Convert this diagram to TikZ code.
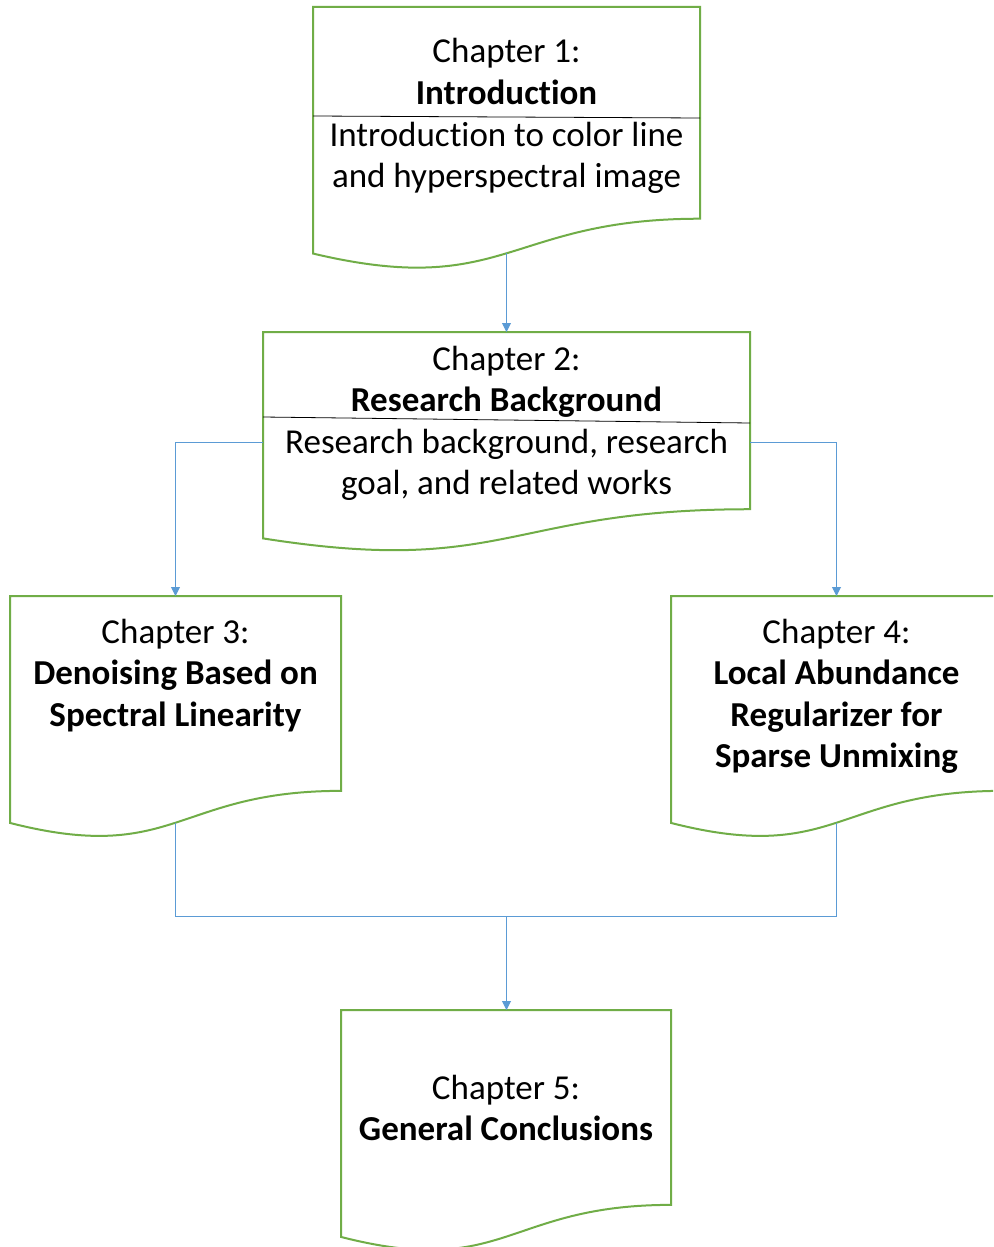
\documentclass[tikz,border=0pt]{standalone}
\usepackage{fontspec}
\setmainfont{Carlito}[Ligatures=NoCommon]
\usetikzlibrary{calc,arrows.meta}
\definecolor{docgreen}{HTML}{70AD47}
\definecolor{conblue}{HTML}{5B9BD5}
\tikzset{
  docline/.style={draw=docgreen, line width=2pt, line join=miter},
  conn/.style={draw=conblue, line width=0.9pt},
  arr/.style={conn, -{Triangle[width=9pt,length=9pt]}},
  txt/.style={inner sep=0pt, anchor=base, font=\fontsize{35}{42}\selectfont},
  divider/.style={draw=black, line width=0.8pt},
}
% name, left x, top y, width, height (pixel units, y downwards)
\newcommand\docbox[5]{%
  \node[inner sep=0pt, outer sep=0pt, minimum width=#4pt, minimum height=#5pt, anchor=north west] (#1) at (#2pt,-#3pt) {};
  \draw[docline] (#1.north west) -- (#1.north east) -- ($(#1.north east)+(0,-0.80194*#5pt)$)
    .. controls ($(#1.north)+(0,-0.80194*#5pt)$) and ($(#1.north)+(0,-1.10750*#5pt)$) ..
    ($(#1.north west)+(0,-0.93389*#5pt)$) -- cycle;
  \coordinate (#1-w) at ($(#1.north)+(0,-0.9333*#5pt)$);
}
\begin{document}
\begin{tikzpicture}
\clip (0,0) rectangle (993pt,-1247pt);
\fill[white] (0,0) rectangle (993pt,-1247pt);

\docbox{b1}{313}{7}{387}{264}
\docbox{b2}{263}{332}{487}{221}
\docbox{b3}{10}{596}{331}{243}
\docbox{b4}{671}{596}{331}{243}
\docbox{b5}{341}{1010}{330}{243}

\draw[divider] ($(b1.north west)+(0,-109pt)$) -- ($(b1.north east)+(0,-111pt)$);
\draw[divider] ($(b2.north west)+(0,-85pt)$) -- ($(b2.north east)+(0,-91pt)$);

% texts
\node[txt] (t1a) at (506.5pt,-63pt) {Chapter 1:};
\node[txt] (t1b) at (506.5pt,-104.5pt) {\bfseries Introduction};
\node[txt] (t1c) at (506.5pt,-146pt) {Introduction to color line};
\node[txt] (t1d) at (506.5pt,-187.5pt) {and hyperspectral image};

\node[txt] (t2a) at (506.5pt,-370pt) {Chapter 2:};
\node[txt] (t2b) at (506.5pt,-411.5pt) {\bfseries Research Background};
\node[txt] (t2c) at (506.5pt,-453pt) {Research background, research};
\node[txt] (t2d) at (506.5pt,-494.5pt) {goal, and related works};

\node[txt] (t3a) at (175.5pt,-643pt) {Chapter 3:};
\node[txt] (t3b) at (175.5pt,-684.5pt) {\bfseries Denoising Based on};
\node[txt] (t3c) at (175.5pt,-726pt) {\bfseries Spectral Linearity};

\node[txt] (t4a) at (836.5pt,-643pt) {Chapter 4:};
\node[txt] (t4b) at (836.5pt,-684.5pt) {\bfseries Local Abundance};
\node[txt] (t4c) at (836.5pt,-726pt) {\bfseries Regularizer for};
\node[txt] (t4d) at (836.5pt,-767.5pt) {\bfseries Sparse Unmixing};

\node[txt] (t5a) at (506pt,-1099pt) {Chapter 5:};
\node[txt] (t5b) at (506pt,-1140.5pt) {\bfseries General Conclusions};

% connectors
\draw[arr] (b1-w) -- (b1-w |- b2.north);
\draw[arr] (b2.west) -| (b3.north);
\draw[arr] (b2.east) -| (b4.north);
\coordinate (m) at (506.5pt,-916pt);
\draw[conn] (b3-w) -- (b3-w |- m) -- (b4-w |- m) -- (b4-w);
\draw[arr] (m) -- (m |- b5.north);
\end{tikzpicture}
\end{document}
